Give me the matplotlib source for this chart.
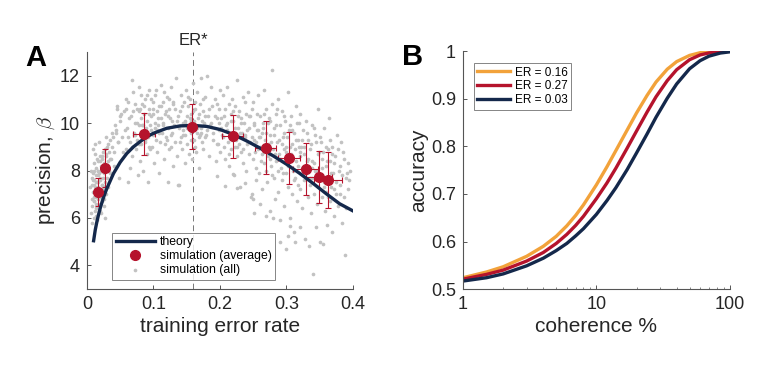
import numpy as np
import matplotlib
matplotlib.use("Agg")
import matplotlib.pyplot as plt

plt.rcParams['font.family'] = ['Liberation Sans', 'DejaVu Sans']
plt.rcParams['mathtext.fontset'] = 'cm'

# ---- panel A: theory curve
theory_er = [0.01, 0.0125, 0.015, 0.0175, 0.02, 0.025, 0.03, 0.04, 0.05, 0.06, 0.07, 0.08, 0.09, 0.10,
             0.12, 0.14, 0.16, 0.18, 0.20, 0.22, 0.24, 0.26, 0.28, 0.30, 0.32, 0.34, 0.36, 0.38, 0.40]
theory_beta = [5.04, 5.5, 5.85, 6.15, 6.42, 6.88, 7.25, 7.88, 8.35, 8.72, 9.0, 9.22, 9.42, 9.57,
               9.78, 9.88, 9.9, 9.86, 9.73, 9.52, 9.25, 8.95, 8.62, 8.27, 7.88, 7.46, 7.02, 6.6, 6.3]

# simulation averages with error bars
avg_er = [0.0165, 0.0275, 0.086, 0.158, 0.219, 0.269, 0.304, 0.329, 0.349, 0.3625]
avg_beta = [7.1, 8.12, 9.54, 9.85, 9.44, 8.96, 8.54, 8.05, 7.73, 7.6]
avg_yerr = [0.6, 0.8, 0.88, 0.96, 0.92, 1.12, 1.1, 1.1, 1.08, 1.19]
avg_xerr = [0.003, 0.003, 0.017, 0.004, 0.016, 0.016, 0.016, 0.019, 0.02, 0.021]

# simulation (all), grouped by region of the cloud
all_er_1 = [0.006, 0.007, 0.008, 0.008, 0.009, 0.009, 0.010, 0.010, 0.011, 0.011, 0.012, 0.012, 0.013, 0.013,
            0.014, 0.014, 0.015, 0.015, 0.016, 0.016, 0.017, 0.017, 0.018, 0.018, 0.019, 0.019, 0.020, 0.020,
            0.021, 0.021, 0.022, 0.022, 0.023, 0.023, 0.024, 0.024, 0.025, 0.025, 0.026, 0.026, 0.027, 0.028,
            0.028, 0.029, 0.030, 0.030, 0.031, 0.032, 0.033, 0.034, 0.035, 0.036, 0.038, 0.040, 0.005, 0.006,
            0.007, 0.009, 0.012, 0.018, 0.042, 0.045, 0.048, 0.062, 0.011, 0.014, 0.017, 0.020, 0.023, 0.008,
            0.013, 0.016, 0.019, 0.022, 0.027, 0.010, 0.015, 0.021, 0.024, 0.026,
            0.009, 0.010, 0.011, 0.012, 0.013, 0.014, 0.015, 0.016, 0.017, 0.018, 0.019, 0.020, 0.021, 0.022,
            0.023, 0.024, 0.025, 0.026, 0.027, 0.028, 0.029, 0.031, 0.033, 0.035, 0.037, 0.039, 0.041, 0.044,
            0.047, 0.050]
all_beta_1 = [6.2, 6.8, 7.4, 6.5, 7.9, 7.1, 6.0, 8.3, 6.9, 7.6, 6.3, 8.7, 7.2, 7.8,
              6.6, 8.1, 7.0, 5.9, 7.5, 8.4, 6.8, 7.3, 6.4, 7.9, 7.1, 8.6, 6.9, 7.6,
              6.2, 8.2, 7.4, 7.0, 8.0, 6.7, 7.7, 8.8, 7.2, 6.5, 8.3, 7.9, 7.5, 8.6,
              7.0, 8.1, 7.7, 9.0, 8.4, 7.3, 8.8, 7.9, 9.3, 8.5, 9.6, 8.2, 7.3, 8.0,
              5.8, 8.9, 9.1, 9.2, 9.9, 10.6, 7.7, 7.5, 7.4, 6.1, 8.0, 6.6, 7.2, 7.7,
              6.9, 7.8, 6.3, 8.5, 6.0, 6.7, 7.5, 8.0, 7.1, 6.8,
              7.6, 6.7, 8.0, 7.3, 6.4, 7.5, 8.5, 6.9, 8.0, 7.2, 7.7, 8.4, 7.0, 8.6,
              7.4, 6.9, 8.1, 7.3, 8.9, 9.4, 8.7, 9.1, 8.0, 8.5, 9.0, 9.4, 8.8, 9.7,
              9.2, 10.3]

all_er_2 = [0.045, 0.050, 0.052, 0.055, 0.058, 0.060, 0.062, 0.064, 0.066, 0.068, 0.070, 0.071, 0.072, 0.074,
            0.075, 0.076, 0.078, 0.079, 0.080, 0.081, 0.082, 0.083, 0.084, 0.085, 0.086, 0.087, 0.088, 0.089,
            0.090, 0.091, 0.092, 0.093, 0.094, 0.095, 0.096, 0.097, 0.098, 0.099, 0.100, 0.101, 0.102, 0.103,
            0.104, 0.105, 0.106, 0.107, 0.108, 0.110, 0.111, 0.112, 0.113, 0.115, 0.116, 0.117, 0.118, 0.120,
            0.122, 0.124, 0.126, 0.128, 0.130, 0.065, 0.077, 0.092, 0.108, 0.058, 0.068, 0.073, 0.083, 0.094,
            0.099, 0.105, 0.114, 0.119, 0.088, 0.079,
            0.043, 0.047, 0.051, 0.054, 0.057, 0.059, 0.061, 0.063, 0.067, 0.069, 0.071, 0.073, 0.076, 0.078,
            0.080, 0.082, 0.084, 0.086, 0.088, 0.090, 0.093, 0.095, 0.097, 0.100, 0.102, 0.104, 0.107, 0.109,
            0.111, 0.114, 0.116, 0.119, 0.121, 0.123, 0.125, 0.127, 0.129]
all_beta_2 = [10.7, 10.1, 9.4, 10.5, 8.9, 9.8, 10.9, 9.2, 10.3, 8.6, 11.3, 9.6, 10.0, 8.9,
              10.6, 9.3, 11.5, 9.9, 8.4, 10.2, 9.1, 10.8, 9.6, 8.0, 10.4, 9.2, 11.0, 9.8,
              8.7, 10.1, 9.4, 11.4, 10.6, 8.9, 9.7, 10.3, 9.0, 10.9, 9.5, 8.3, 10.0, 11.2,
              9.3, 10.5, 8.8, 9.9, 10.7, 9.2, 11.6, 10.2, 9.6, 10.9, 8.5, 10.4, 9.1, 11.1,
              9.8, 10.6, 9.0, 10.1, 8.2, 8.1, 7.8, 7.5, 7.9, 11.0, 11.8, 9.5, 9.9, 9.0,
              10.4, 9.7, 10.0, 9.4, 9.3, 10.5,
              9.6, 9.2, 10.4, 8.8, 9.7, 10.6, 9.4, 10.2, 9.0, 10.5, 9.5, 10.8, 10.0, 9.1,
              10.6, 11.2, 9.9, 10.7, 9.5, 11.2, 10.4, 9.9, 11.0, 10.6, 9.8, 11.4, 10.2, 9.6,
              10.7, 9.9, 11.3, 10.5, 9.3, 11.0, 10.2, 9.5, 10.9]

all_er_3 = [0.122, 0.124, 0.126, 0.128, 0.130, 0.132, 0.134, 0.135, 0.136, 0.138, 0.139, 0.140, 0.141, 0.142,
            0.143, 0.144, 0.145, 0.146, 0.147, 0.148, 0.149, 0.150, 0.151, 0.152, 0.153, 0.154, 0.155, 0.156,
            0.157, 0.158, 0.159, 0.160, 0.161, 0.162, 0.163, 0.164, 0.165, 0.166, 0.167, 0.168, 0.169, 0.170,
            0.171, 0.172, 0.173, 0.174, 0.175, 0.176, 0.178, 0.179, 0.180, 0.182, 0.183, 0.185, 0.186, 0.188,
            0.190, 0.192, 0.194, 0.196, 0.198, 0.200, 0.1225, 0.137, 0.148, 0.156, 0.164, 0.171, 0.177, 0.153,
            0.131, 0.133, 0.137, 0.140, 0.143, 0.145, 0.147, 0.150, 0.152, 0.155, 0.157, 0.159, 0.161, 0.163,
            0.166, 0.168, 0.170, 0.173, 0.175, 0.177, 0.180, 0.183, 0.186, 0.189, 0.192, 0.195, 0.197, 0.199]
all_beta_3 = [10.3, 8.9, 11.5, 9.6, 10.8, 9.2, 11.9, 10.1, 8.6, 9.8, 7.4, 10.5, 9.4, 11.2,
              8.9, 10.0, 9.7, 10.9, 8.3, 9.5, 11.4, 10.3, 9.1, 10.7, 8.7, 9.9, 11.0, 9.3,
              10.4, 8.5, 9.7, 11.7, 10.1, 9.0, 10.6, 8.8, 9.6, 11.3, 10.2, 9.4, 8.1, 10.8,
              9.8, 11.9, 9.2, 10.5, 8.9, 10.0, 11.1, 9.5, 12.0, 10.3, 8.6, 9.9, 11.5, 10.7,
              9.3, 11.0, 8.4, 10.2, 9.7, 11.4, 7.5, 7.4, 10.0, 10.1, 9.9, 9.6, 10.3, 9.8,
              9.9, 10.6, 10.3, 9.2, 10.7, 9.5, 10.1, 9.8, 11.1, 10.2, 9.6, 10.5, 9.3, 10.9,
              9.8, 10.4, 9.5, 10.1, 11.0, 9.4, 9.7, 10.6, 10.0, 9.6, 10.3, 10.8, 9.1, 10.0]

all_er_4 = [0.195, 0.198, 0.200, 0.202, 0.204, 0.205, 0.206, 0.208, 0.209, 0.210, 0.211, 0.212, 0.213, 0.214,
            0.215, 0.216, 0.217, 0.218, 0.219, 0.220, 0.221, 0.222, 0.223, 0.224, 0.225, 0.226, 0.227, 0.228,
            0.229, 0.230, 0.231, 0.232, 0.233, 0.234, 0.235, 0.236, 0.237, 0.238, 0.239, 0.240, 0.242, 0.243,
            0.244, 0.246, 0.247, 0.248, 0.250, 0.252, 0.254, 0.256, 0.258, 0.260, 0.195, 0.220, 0.207, 0.225,
            0.237, 0.248, 0.250, 0.252,
            0.201, 0.203, 0.206, 0.208, 0.211, 0.213, 0.216, 0.218, 0.220, 0.223, 0.225, 0.227, 0.230, 0.232,
            0.234, 0.237, 0.239, 0.241, 0.244, 0.246, 0.249, 0.251, 0.253, 0.255, 0.257, 0.259]
all_beta_4 = [9.1, 10.6, 8.8, 9.8, 11.2, 9.4, 10.3, 8.5, 9.9, 11.5, 10.0, 9.2, 10.8, 8.2,
              9.6, 10.4, 8.9, 11.0, 9.5, 10.1, 7.8, 9.0, 10.7, 9.3, 11.8, 8.6, 9.8, 10.5,
              9.1, 7.3, 10.2, 8.8, 9.6, 11.1, 8.3, 10.0, 9.4, 10.9, 8.0, 9.7, 11.3, 8.7,
              10.3, 9.2, 6.9, 10.6, 8.5, 9.9, 7.6, 10.4, 8.9, 6.6, 7.77, 7.86, 7.36, 7.27,
              7.48, 7.0, 6.8, 6.2,
              10.2, 9.5, 9.0, 10.6, 9.7, 8.7, 10.1, 9.3, 10.5, 9.8, 9.0, 10.3, 9.6, 10.0,
              8.9, 9.5, 10.4, 9.1, 9.8, 10.3, 9.4, 10.0, 8.8, 9.2, 9.7, 9.4]

all_er_5 = [0.250, 0.252, 0.254, 0.256, 0.258, 0.259, 0.260, 0.261, 0.262, 0.263, 0.264, 0.265, 0.266, 0.267,
            0.268, 0.269, 0.270, 0.271, 0.272, 0.273, 0.274, 0.275, 0.276, 0.277, 0.278, 0.279, 0.280, 0.281,
            0.282, 0.283, 0.284, 0.285, 0.286, 0.287, 0.288, 0.289, 0.290, 0.291, 0.292, 0.293, 0.294, 0.295,
            0.296, 0.297, 0.298, 0.299, 0.300, 0.301, 0.302, 0.303, 0.304, 0.305, 0.306, 0.307, 0.308, 0.309,
            0.310, 0.311, 0.312, 0.313, 0.314, 0.315, 0.316, 0.317, 0.318, 0.319, 0.320, 0.302, 0.313, 0.305,
            0.290, 0.280, 0.270, 0.300, 0.320,
            0.261, 0.263, 0.265, 0.267, 0.269, 0.271, 0.273, 0.275, 0.277, 0.279, 0.281, 0.283, 0.285, 0.287,
            0.289, 0.291, 0.293, 0.295, 0.297, 0.299, 0.301, 0.303, 0.305, 0.307, 0.309, 0.311, 0.313, 0.315,
            0.317, 0.319, 0.266, 0.276, 0.286, 0.296, 0.306, 0.316]
all_beta_5 = [10.9, 9.3, 8.1, 9.7, 11.2, 7.9, 9.0, 10.3, 8.4, 9.6, 7.2, 10.0, 8.8, 11.4,
              9.3, 8.0, 10.6, 7.5, 9.1, 8.6, 10.2, 6.3, 9.5, 8.2, 12.25, 10.8, 8.9, 7.7,
              9.8, 6.8, 10.4, 8.4, 9.2, 7.1, 11.0, 8.7, 9.9, 5.9, 8.1, 10.5, 7.6, 9.4,
              8.9, 6.5, 10.1, 7.9, 9.0, 8.3, 11.3, 7.3, 9.7, 6.0, 8.6, 10.3, 7.0, 9.1,
              8.0, 5.4, 9.6, 7.7, 10.7, 8.4, 6.7, 9.3, 7.4, 10.0, 8.8, 5.26, 4.97, 5.68,
              5.0, 6.0, 6.1, 4.7, 5.6,
              9.4, 8.7, 9.8, 8.3, 9.6, 8.9, 10.0, 8.5, 9.2, 7.8, 9.5, 8.7, 9.9, 8.0,
              9.3, 8.5, 9.1, 7.9, 9.6, 8.8, 9.4, 8.2, 9.0, 8.7, 9.7, 7.6, 8.9, 9.3,
              8.2, 9.0, 10.4, 10.1, 10.6, 10.3, 9.9, 10.0]

all_er_6 = [0.320, 0.321, 0.322, 0.323, 0.324, 0.325, 0.326, 0.327, 0.328, 0.329, 0.330, 0.331, 0.332, 0.333,
            0.334, 0.335, 0.336, 0.337, 0.338, 0.339, 0.340, 0.341, 0.342, 0.343, 0.344, 0.345, 0.346, 0.347,
            0.348, 0.349, 0.350, 0.351, 0.352, 0.353, 0.354, 0.355, 0.356, 0.357, 0.358, 0.359, 0.360, 0.361,
            0.362, 0.363, 0.364, 0.365, 0.366, 0.367, 0.368, 0.369, 0.370, 0.372, 0.373, 0.375, 0.376, 0.378,
            0.379, 0.381, 0.383, 0.385, 0.386, 0.388, 0.389, 0.390, 0.392, 0.327, 0.338, 0.346, 0.355, 0.364,
            0.371, 0.380, 0.394,
            0.321, 0.323, 0.325, 0.327, 0.329, 0.331, 0.333, 0.335, 0.337, 0.339, 0.341, 0.343, 0.345, 0.347,
            0.349, 0.351, 0.353, 0.355, 0.357, 0.359, 0.361, 0.363, 0.365, 0.367, 0.369, 0.371, 0.374, 0.377,
            0.380, 0.382, 0.384, 0.387, 0.391, 0.393, 0.395]
all_beta_6 = [10.4, 7.2, 9.0, 8.1, 6.4, 9.7, 7.6, 8.7, 5.1, 10.1, 7.9, 8.4, 6.9, 9.3,
              4.8, 7.4, 8.9, 6.2, 9.9, 7.7, 3.62, 8.3, 7.0, 9.5, 5.6, 8.0, 6.6, 10.6,
              7.3, 8.8, 5.0, 7.8, 9.2, 6.9, 8.5, 4.9, 7.5, 9.8, 6.3, 8.2, 7.1, 5.7,
              8.9, 7.6, 10.2, 6.7, 8.4, 7.3, 5.4, 9.0, 7.9, 6.1, 8.6, 7.0, 9.5, 6.5,
              8.0, 7.4, 5.8, 8.8, 6.9, 4.43, 7.7, 6.4, 8.3, 8.0, 8.1, 7.8, 7.7, 7.5,
              7.2, 7.0, 7.6,
              8.6, 9.3, 7.9, 9.0, 8.2, 9.6, 8.5, 7.7, 9.1, 8.4, 9.8, 8.0, 9.2, 8.7,
              7.6, 9.4, 8.1, 8.8, 7.3, 9.0, 8.4, 6.9, 9.3, 7.9, 8.7, 8.3, 7.5, 8.9,
              8.2, 9.2, 7.8, 8.5, 7.9, 7.2, 8.0]

# ---- panel B: psychometric curves
coherence = [1, 1.5, 2, 3, 4, 5, 6, 7, 8, 10, 12, 14, 17, 20, 24, 28, 34, 40, 50, 60, 70, 85, 100]
acc_016 = [0.524, 0.536, 0.547, 0.569, 0.59, 0.611, 0.633, 0.655, 0.677, 0.719, 0.757, 0.791, 0.834, 0.87,
           0.907, 0.935, 0.962, 0.978, 0.991, 0.9967, 0.9987, 0.9997, 1.0]
acc_027 = [0.521, 0.531, 0.54, 0.559, 0.577, 0.596, 0.615, 0.634, 0.653, 0.69, 0.723, 0.754, 0.796, 0.832,
           0.872, 0.904, 0.938, 0.961, 0.982, 0.992, 0.9963, 0.9989, 0.9997]
acc_003 = [0.517, 0.524, 0.532, 0.549, 0.565, 0.581, 0.596, 0.612, 0.627, 0.657, 0.686, 0.713, 0.751, 0.786,
           0.826, 0.861, 0.901, 0.931, 0.963, 0.98, 0.9895, 0.996, 0.9985]

navy = '#14284b'
red = '#b5132c'
orange = '#f2a23a'
gray = '#c2c2c2'
axcol = '#555555'
txt = '#262626'

fig = plt.figure(figsize=(7.73, 3.76), dpi=100)


def style(ax):
    for s in ['top', 'right']:
        ax.spines[s].set_visible(False)
    for s in ['left', 'bottom']:
        ax.spines[s].set_color(axcol)
        ax.spines[s].set_linewidth(0.8)
    ax.tick_params(direction='in', length=3, width=0.7, colors=axcol, labelcolor=txt, labelsize=13, pad=5)
    ax.tick_params(which='minor', direction='in', length=1.8, width=0.5, colors=axcol)


# ---- A
axA = fig.add_axes([0.1125, 0.231, 0.344, 0.631])
all_er = all_er_1 + all_er_2 + all_er_3 + all_er_4 + all_er_5 + all_er_6
all_beta = all_beta_1 + all_beta_2 + all_beta_3 + all_beta_4 + all_beta_5 + all_beta_6
axA.axvline(0.16, color='#777777', lw=0.7, ls=(0, (6, 4)), zorder=1)
axA.scatter(all_er, all_beta, s=7, color=gray, lw=0, zorder=2)
axA.errorbar(avg_er, avg_beta, yerr=avg_yerr, xerr=avg_xerr, fmt='none', ecolor=red, elinewidth=0.8,
             capsize=2.2, capthick=0.8, zorder=3)
hT, = axA.plot(theory_er, theory_beta, color=navy, lw=2.4, zorder=4)
hA, = axA.plot(avg_er, avg_beta, 'o', color=red, ms=7, mec=red, zorder=5)
hS = axA.scatter([], [], s=7, color=gray, lw=0)
axA.set_xlim(0, 0.4)
axA.set_ylim(3, 13)
axA.set_xticks([0, 0.1, 0.2, 0.3, 0.4])
axA.set_xticklabels(['0', '0.1', '0.2', '0.3', '0.4'])
axA.set_yticks([4, 6, 8, 10, 12])
style(axA)
axA.set_xlabel('training error rate', fontsize=15, color=txt, labelpad=3)
axA.set_ylabel(r'precision, $\beta$', fontsize=15, color=txt, labelpad=2)
leg = axA.legend([hT, hA, hS], ['theory', 'simulation (average)', 'simulation (all)'],
                 loc='lower left', bbox_to_anchor=(0.095, 0.04), fontsize=8.8, frameon=True, fancybox=False,
                 handlelength=3.2, handletextpad=0.4, borderpad=0.3, labelspacing=0.15, borderaxespad=0)
leg.get_frame().set_edgecolor('#666666')
leg.get_frame().set_linewidth(0.7)
axA.text(0.16, 13.15, 'ER*', ha='center', va='bottom', fontsize=12, color=txt)
fig.text(0.046, 0.845, 'A', fontsize=21, fontweight='bold', ha='center', va='center')

# ---- B
axB = fig.add_axes([0.599, 0.231, 0.345, 0.633])
axB.plot(coherence, acc_016, color=orange, lw=2.4, label='ER = 0.16')
axB.plot(coherence, acc_027, color=red, lw=2.4, label='ER = 0.27')
axB.plot(coherence, acc_003, color=navy, lw=2.4, label='ER = 0.03')
axB.set_xscale('log')
axB.set_xlim(1, 100)
axB.set_ylim(0.5, 1)
axB.set_xticks([1, 10, 100])
axB.set_xticklabels(['1', '10', '100'])
axB.set_yticks([0.5, 0.6, 0.7, 0.8, 0.9, 1.0])
axB.set_yticklabels(['0.5', '0.6', '0.7', '0.8', '0.9', '1'])
style(axB)
axB.set_xlabel('coherence %', fontsize=15, color=txt, labelpad=3)
axB.set_ylabel('accuracy', fontsize=15, color=txt, labelpad=2)
legB = axB.legend(loc='upper left', bbox_to_anchor=(0.04, 0.95), fontsize=8.5, frameon=True, fancybox=False,
                  handlelength=2.8, handletextpad=0.4, borderpad=0.3, labelspacing=0.15, borderaxespad=0)
legB.get_frame().set_edgecolor('#666666')
legB.get_frame().set_linewidth(0.7)
fig.text(0.534, 0.848, 'B', fontsize=21, fontweight='bold', ha='center', va='center')

fig.savefig('out.png', dpi=100)
